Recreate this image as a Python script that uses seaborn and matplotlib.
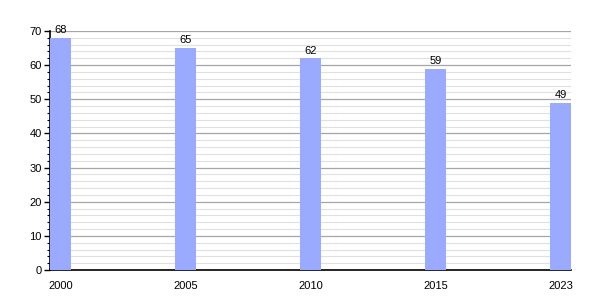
import matplotlib
matplotlib.use("Agg")
import matplotlib.pyplot as plt
import seaborn as sns
import pandas as pd
from matplotlib.ticker import MultipleLocator

years = ["2000", "2005", "2010", "2015", "2023"]
values = [68, 65, 62, 59, 49]

sns.set_theme(style="white")
plt.rcParams['font.family'] = ['Liberation Sans', 'DejaVu Sans']

df = pd.DataFrame({"year": years, "value": values})

fig = plt.figure(figsize=(6, 3), dpi=100)
ax = fig.add_axes([50/600, 1-270/300, 521/600, 239/300])

sns.barplot(data=df, x="year", y="value", color="#99aaff", saturation=1,
            width=0.168, ax=ax, zorder=3, edgecolor="none", linewidth=0)

ax.set_xlim(-0.084, 4.084)
ax.set_ylim(0, 70)
ax.yaxis.set_major_locator(MultipleLocator(10))
ax.yaxis.set_minor_locator(MultipleLocator(2))
ax.grid(which="major", axis="y", color="#a6a6a6", linewidth=0.9, zorder=0)
ax.grid(which="minor", axis="y", color="#e0e0e0", linewidth=0.8, zorder=0)
ax.set_axisbelow(True)

for s in ["top", "right"]:
    ax.spines[s].set_visible(False)
for s in ["left", "bottom"]:
    ax.spines[s].set_color("black")
    ax.spines[s].set_linewidth(1.2)

ax.tick_params(axis="y", which="major", left=True, length=4, width=1, color="black", labelsize=8, pad=2, labelcolor="black")
ax.tick_params(axis="y", which="minor", left=True, length=2.5, width=0.8, color="black")
ax.tick_params(axis="x", bottom=False, labelsize=8, pad=2, labelcolor="black")
ax.set_xlabel("")
ax.set_ylabel("")

for i, v in enumerate(values):
    ax.annotate(str(v), (i, v), xytext=(0, 2), textcoords="offset points",
                ha="center", va="bottom", fontsize=8, color="black")

fig.savefig("out.png", dpi=100)
